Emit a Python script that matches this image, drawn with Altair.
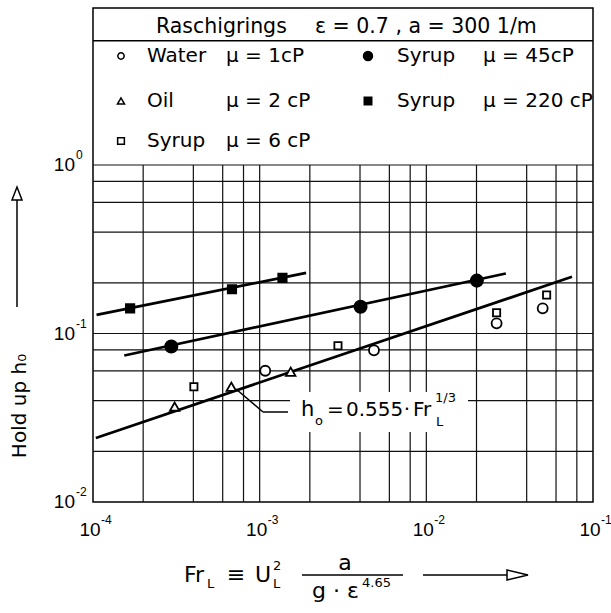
import altair as alt
import pandas as pd

FONT = "DejaVu Sans"
TICKFONT = "Liberation Sans"

# ---------------- data ----------------
water_x = [1.08e-3, 4.85e-3, 2.64e-2, 4.99e-2]
water_y = [0.0601, 0.0795, 0.1149, 0.1411]
oil_x = [3.09e-4, 6.76e-4, 1.535e-3]
oil_y = [0.0368, 0.0483, 0.0593]
syr6_x = [4.03e-4, 2.95e-3, 2.64e-2, 5.27e-2]
syr6_y = [0.0483, 0.0846, 0.1328, 0.1693]
syr45_x = [2.95e-4, 4.03e-3, 2.01e-2]
syr45_y = [0.0838, 0.144, 0.206]
syr220_x = [1.67e-4, 6.82e-4, 1.37e-3]
syr220_y = [0.141, 0.183, 0.214]

fit45_x = [1.54e-4, 3.0e-2]
fit45_y = [0.074, 0.227]
fit220_x = [1.05e-4, 1.9e-3]
fit220_y = [0.129, 0.229]
theory_x = [1.04e-4, 7.48e-2]
theory_y = [0.024, 0.217]

grid_x = [2e-4, 4e-4, 6e-4, 8e-4, 1e-3, 2e-3, 4e-3, 6e-3, 8e-3,
          1e-2, 2e-2, 4e-2, 6e-2, 8e-2]
grid_y = [0.02, 0.04, 0.06, 0.08, 0.1, 0.2, 0.4, 0.6, 0.8, 1.0]
xtick_vals = [1e-4, 1e-3, 1e-2, 1e-1]
xtick_exp = ["-4", "-3", "-2", "-1"]
ytick_vals = [1e-2, 1e-1, 1e0]
ytick_exp = ["-2", "-1", "0"]

# ---------------- scales ----------------
xs = alt.Scale(type="log", domain=[1e-4, 1e-1], nice=False)
ys = alt.Scale(type="log", domain=[0.01, 8.547], nice=False)
X = lambda f="x": alt.X(f"{f}:Q", scale=xs, axis=None)
Y = lambda f="y": alt.Y(f"{f}:Q", scale=ys, axis=None)

one = pd.DataFrame({"a": [0]})


def txt(s, x, y, size=20, align="left", baseline="middle", angle=0, font=FONT):
    return alt.Chart(one).mark_text(
        text=s, font=font, fontSize=size, align=align, baseline=baseline,
        angle=angle, color="black"
    ).encode(x=alt.value(x), y=alt.value(y))


def seg(x1, y1, x2, y2, w=1.5):
    return alt.Chart(one).mark_rule(color="black", strokeWidth=w).encode(
        x=alt.value(x1), y=alt.value(y1), x2=alt.value(x2), y2=alt.value(y2))


def sym(x, y, shape, size, filled, sw=1.5):
    kw = dict(fill="black") if filled else dict(fill="white")
    return alt.Chart(one).mark_point(
        shape=shape, size=size, filled=True, stroke="black", strokeWidth=sw,
        opacity=1, **kw
    ).encode(x=alt.value(x), y=alt.value(y))


def pts(xv, yv, shape, size, filled, sw=1.8):
    df = pd.DataFrame({"x": xv, "y": yv})
    kw = dict(fill="black") if filled else dict(fill="white")
    return alt.Chart(df).mark_point(
        shape=shape, size=size, filled=True, stroke="black", strokeWidth=sw,
        opacity=1, **kw
    ).encode(x=X(), y=Y())


def line(xv, yv):
    df = pd.DataFrame({"x": xv, "y": yv})
    return alt.Chart(df).mark_line(color="black", strokeWidth=2.7).encode(x=X(), y=Y())


# ---------------- grid ----------------
gx = pd.DataFrame({"x": grid_x, "y1": [0.01] * len(grid_x), "y2": [1.0] * len(grid_x)})
gy = pd.DataFrame({"y": grid_y, "x1": [1e-4] * len(grid_y), "x2": [0.1] * len(grid_y)})
vgrid = alt.Chart(gx).mark_rule(color="#111", strokeWidth=1.2).encode(
    x=X(), y=Y("y1"), y2="y2:Q")
hgrid = alt.Chart(gy).mark_rule(color="#111", strokeWidth=1.2).encode(
    y=Y(), x=X("x1"), x2="x2:Q")

# ---------------- tick labels ----------------
xt = pd.DataFrame({"v": xtick_vals, "e": xtick_exp})
yt = pd.DataFrame({"v": ytick_vals, "e": ytick_exp})
xt_main = alt.Chart(xt).mark_text(text="10", font=TICKFONT, fontSize=19, align="center",
                                  baseline="middle", dx=-3).encode(x=X("v"), y=alt.value(522))
xt_exp = alt.Chart(xt).mark_text(font=TICKFONT, fontSize=12, align="left", baseline="middle",
                                 dx=8).encode(x=X("v"), y=alt.value(512), text="e:N")
yt_main = alt.Chart(yt).mark_text(text="10", font=TICKFONT, fontSize=19, align="right",
                                  baseline="middle").encode(y=Y("v"), x=alt.value(-18))
yt_exp = alt.Chart(yt).mark_text(font=TICKFONT, fontSize=12, align="left", baseline="middle",
                                 dy=-10).encode(y=Y("v"), x=alt.value(-17), text="e:N")

# ---------------- legend box (inside the frame, above 10^0) ----------------
legend = [
    seg(0, 32.7, 500, 32.7, 1.5),
    txt("Raschigrings", 63, 19, 20.5),
    txt("ε = 0.7 ,  a = 300  1/m", 222, 19, 20.5),
    sym(28, 48, "circle", 40, False),
    txt("Water", 54, 48), txt("μ = 1cP", 133, 48),
    sym(28, 93, "triangle-up", 50, False),
    txt("Oil", 54, 93), txt("μ = 2 cP", 133, 93),
    sym(28, 133, "square", 45, False),
    txt("Syrup", 54, 133), txt("μ = 6 cP", 133, 133),
    sym(275, 48, "circle", 81, True),
    txt("Syrup", 304, 48), txt("μ = 45cP", 390, 48),
    sym(275, 93, "square", 56, True),
    txt("Syrup", 304, 93), txt("μ = 220 cP", 390, 93),
]

# ---------------- annotation ----------------
annot = [
    alt.Chart(one).mark_rect(color="white").encode(
        x=alt.value(197), x2=alt.value(375), y=alt.value(384), y2=alt.value(424)),
    seg(143, 381, 170, 404, 1.5),
    seg(170, 404, 195, 404, 1.5),
    txt("h", 208, 402, 21),
    txt("o", 222, 413, 13),
    txt("=", 234, 402, 20),
    txt("0.555", 253, 402, 20),
    txt("·", 314, 402, 20, align="center"),
    txt("Fr", 320, 402, 20),
    txt("1/3", 342, 390, 13),
    txt("L", 343, 414, 13),
]

# ---------------- axis titles ----------------
titles = [
    txt("Hold up h₀", -73, 398, 20, align="center", angle=270),
    seg(-76, 299, -76, 192, 1.5),
    sym(-76, 185.5, "M-0.77,1L0,-1L0.77,1Z", 169, False),
    txt("Fr", 91, 567, 22),
    txt("L", 114, 576, 13),
    txt("≡", 143, 567, 22, align="center"),
    txt("U", 162, 567, 22),
    txt("2", 180, 558, 13),
    txt("L", 180, 576, 13),
    txt("a", 252, 562, 22, align="center", baseline="alphabetic"),
    seg(209, 567, 310, 567, 1.5),
    txt("g · ε", 219, 590, 22, baseline="alphabetic"),
    txt("4.65", 269, 575, 13),
    seg(330, 567, 414, 567, 1.5),
    sym(424.5, 567, "M-1,-0.48L1,0L-1,0.48Z", 441, False),
]

data_layers = [
    line(fit220_x, fit220_y),
    line(fit45_x, fit45_y),
    line(theory_x, theory_y),
    pts(water_x, water_y, "circle", 100, False),
    pts(oil_x, oil_y, "triangle-up", 90, False),
    pts(syr6_x, syr6_y, "square", 52, False),
    pts(syr45_x, syr45_y, "circle", 150, True),
    pts(syr220_x, syr220_y, "square", 70, True),
]

chart = alt.layer(
    vgrid, hgrid, *annot, *data_layers, xt_main, xt_exp, yt_main, yt_exp,
    *legend, *titles
).properties(
    width=500, height=494,
    autosize=alt.AutoSizeParams(type="none"),
    padding={"left": 93, "top": 8, "right": 18, "bottom": 111},
    background="white",
).configure_view(stroke="black", strokeWidth=1.5)

chart.save("out.html", embed_options={"renderer": "svg", "actions": False})
